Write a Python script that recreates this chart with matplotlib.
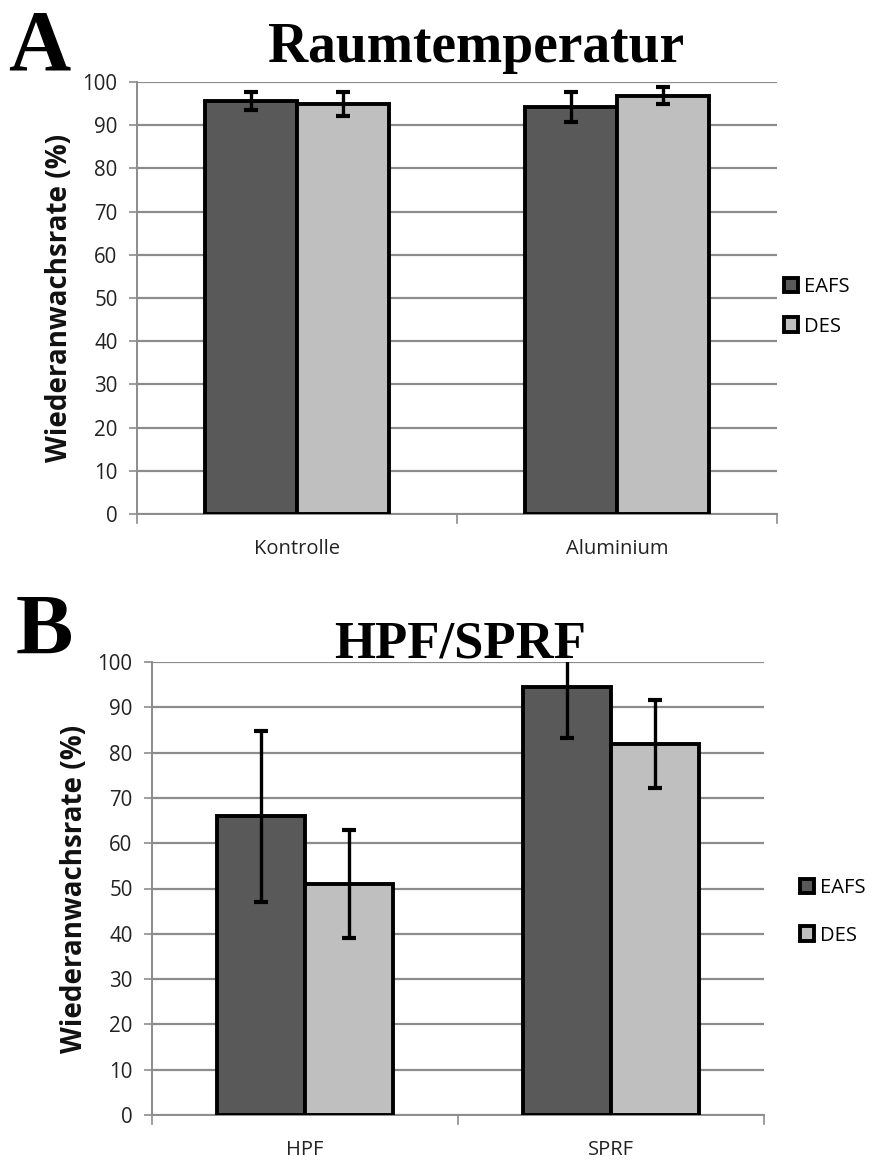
import matplotlib
matplotlib.use("Agg")
import matplotlib.pyplot as plt
from matplotlib.patches import Patch
import numpy as np

# Data
series = ["EAFS", "DES"]
colors = ["#595959", "#BFBFBF"]

cats_a = ["Kontrolle", "Aluminium"]
eafs_a = [95.6, 94.3]
eafs_a_err = [2.0, 3.5]
des_a = [94.9, 96.8]
des_a_err = [2.8, 2.0]

cats_b = ["HPF", "SPRF"]
eafs_b = [65.9, 94.5]
eafs_b_err = [18.9, 11.3]
des_b = [51.0, 81.9]
des_b_err = [12.0, 9.8]

yticks = list(range(0, 101, 10))

W, H = 877, 1167
fig = plt.figure(figsize=(W / 100, H / 100), dpi=100)

tickfont = "Open Sans"
grid_c = "#8C8C8C"


def panel(rect, cats, vals, errs, title, letter, title_xy, letter_xy, leg_xy, tsize, lspace):
    ax = fig.add_axes(rect)
    x = np.arange(len(cats))
    bw = 0.287
    offs = [-bw / 2, bw / 2]
    for i in range(2):
        ax.bar(x + offs[i], vals[i], width=bw, color=colors[i], edgecolor="black",
               linewidth=2.8, zorder=3, label=series[i])
        ax.errorbar(x + offs[i], vals[i], yerr=errs[i], fmt="none", ecolor="black",
                    elinewidth=2.4, capsize=5, capthick=3, zorder=4)
    ax.set_xlim(-0.5, len(cats) - 0.5)
    ax.set_ylim(0, 100)
    ax.set_yticks(yticks)
    ax.set_yticklabels([str(t) for t in yticks], fontsize=14.8, family=tickfont, color="#222222")
    ax.set_xticks(x)
    ax.set_xticklabels(cats, fontsize=14.5, family=tickfont, color="#222222")
    ax.tick_params(axis="x", length=0, pad=18)
    ax.tick_params(axis="y", length=6, width=1.2, color=grid_c, pad=8)
    # category boundary ticks
    for b in np.arange(-0.5, len(cats), 1.0):
        ax.plot([b, b], [0, -2.0], color=grid_c, lw=1.2, clip_on=False, zorder=2)
    ax.yaxis.grid(True, color=grid_c, lw=1.6, zorder=0)
    ax.set_axisbelow(True)
    for s in ["top", "right"]:
        ax.spines[s].set_visible(False)
    for s in ["left", "bottom"]:
        ax.spines[s].set_color(grid_c)
        ax.spines[s].set_linewidth(1.4)
    ax.set_ylabel("Wiederanwachsrate (%)", fontsize=20, fontweight="bold",
                  family=tickfont, color="#111111", labelpad=6)
    fig.text(title_xy[0] / W, 1 - title_xy[1] / H, title, fontsize=tsize, fontweight="bold",
             family="Liberation Serif", ha="center", va="center")
    fig.text(letter_xy[0] / W, 1 - letter_xy[1] / H, letter, fontsize=62, fontweight="bold",
             family="Liberation Serif", ha="center", va="center")
    handles = [Patch(facecolor=colors[i], edgecolor="black", linewidth=2.8, label=series[i])
               for i in range(2)]
    fig.legend(handles=handles, loc="center left",
               bbox_to_anchor=(leg_xy[0] / W, 1 - leg_xy[1] / H),
               frameon=False, handlelength=0.7, handleheight=0.7, handletextpad=0.3,
               labelspacing=lspace, borderpad=0, borderaxespad=0,
               prop={"family": tickfont, "size": 14.5})
    return ax


panel([137 / W, 1 - 514 / H, 640 / W, 432 / H], cats_a,
      [eafs_a, des_a], [eafs_a_err, des_a_err],
      "Raumtemperatur", "A", (476, 48), (39, 49), (784, 307), 40, 0.95)
panel([152 / W, 1 - 1115 / H, 612 / W, 453 / H], cats_b,
      [eafs_b, des_b], [eafs_b_err, des_b_err],
      "HPF/SPRF", "B", (460, 645), (44, 633), (800, 912), 38, 1.35)

fig.savefig("out.png", dpi=100)
